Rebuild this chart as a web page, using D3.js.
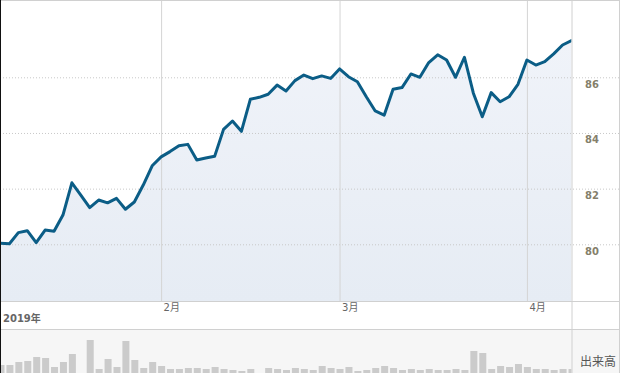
<!DOCTYPE html>
<html>
<head>
<meta charset="utf-8">
<script src="https://cdn.jsdelivr.net/npm/d3@7"></script>
<style>
  body { margin: 0; background: #fff; }
  svg { display: block; }
</style>
</head>
<body>
<svg id="chart" width="620" height="373"></svg>
<script>
// 終値 (2019/1/8 - 2019/4/8, 営業日)
var prices = [
	80.04, 80.02, 80.42, 80.49, 80.06, 80.51, 80.47, 81.05, 82.21, 81.77,
	81.32, 81.59, 81.49, 81.65, 81.26, 81.52, 82.13, 82.82, 83.14, 83.33,
	83.54, 83.59, 83.03, 83.10, 83.16, 84.13, 84.43, 84.06, 85.21, 85.28,
	85.39, 85.72, 85.51, 85.88, 86.08, 85.95, 86.05, 85.96, 86.30, 86.02,
	85.84, 85.30, 84.79, 84.64, 85.57, 85.63, 86.12, 86.00, 86.53, 86.81,
	86.62, 86.00, 86.72, 85.43, 84.58, 85.45, 85.12, 85.30, 85.75, 86.62,
	86.44, 86.56, 86.84, 87.16, 87.32
]

// 出来高
var volumes = [
	80, 80, 110, 120, 160, 150, 60, 110, 190, 0,
	330, 40, 140, 60, 320, 130, 50, 110, 70, 40,
	40, 50, 50, 40, 60, 40, 30, 20, 40, 0,
	50, 40, 30, 50, 40, 30, 70, 50, 40, 60,
	20, 30, 50, 70, 50, 30, 40, 30, 40, 30,
	30, 40, 30, 220, 200, 40, 70, 60, 90, 60,
	40, 40, 30, 40, 40
]

var yTicks = [80, 82, 84, 86]
var monthNames = ['1月', '2月', '3月', '4月']
var yearLabel = '2019年'
var volLabel = '出来高'

// 営業日 (平日)
var dates = d3.utcDay.range(new Date(Date.UTC(2019, 0, 8)), new Date(Date.UTC(2019, 3, 9)))
	.filter(function(d) { return d.getUTCDay() != 0 && d.getUTCDay() != 6 })

var data = dates.map(function(d, i) {
	return { date: d, close: prices[i], vol: volumes[i] }
})

var W = 620, H = 373
var plotR = 571.5, plotB = 301
var volTop = 329

var svg = d3.select('#chart')

var x = d3.scalePoint().domain(d3.range(data.length)).range([0.5, plotR])
var y = d3.scaleLinear().domain([80, 86]).range([244.3, 77.3])
var vy = d3.scaleLinear().domain([0, 440]).range([H, volTop])

// 月初のインデックス
var monthStarts = d3.range(1, data.length).filter(function(i) {
	return data[i].date.getUTCMonth() != data[i - 1].date.getUTCMonth()
})

var defs = svg.append('defs')
defs.append('clipPath').attr('id', 'plotclip')
	.append('rect').attr('x', 0).attr('y', 0).attr('width', plotR).attr('height', plotB)
defs.append('clipPath').attr('id', 'volclip')
	.append('rect').attr('x', 0).attr('y', volTop).attr('width', plotR).attr('height', H - volTop)
var grad = defs.append('linearGradient').attr('id', 'fillgrad')
	.attr('x1', 0).attr('y1', 0).attr('x2', 0).attr('y2', 1)
grad.append('stop').attr('offset', '0%').attr('stop-color', '#f0f3f9')
grad.append('stop').attr('offset', '100%').attr('stop-color', '#e6ecf4')

// 出来高の背景
svg.append('rect')
	.attr('x', 0).attr('y', volTop).attr('width', W).attr('height', H - volTop)
	.style('fill', '#f6f6f6')

// 面
var area = d3.area()
	.x(function(d, i) { return x(i) })
	.y0(plotB)
	.y1(function(d) { return y(d.close) })

svg.append('path')
	.datum(data)
	.attr('clip-path', 'url(#plotclip)')
	.attr('d', area)
	.style('fill', 'url(#fillgrad)')

// 横グリッド + 目盛
var yAxis = svg.append('g')
	.attr('class', 'yaxis')
	.call(d3.axisRight(y).tickValues(yTicks).tickSize(W).tickFormat(d3.format('d')))
yAxis.select('.domain').remove()
yAxis.selectAll('line')
	.style('stroke', '#c8c8c8')
	.style('stroke-dasharray', '1,2')
yAxis.selectAll('text')
	.attr('x', 585).attr('y', 10).attr('dy', 0)
	.style('text-anchor', 'start')
	.style('font-family', '"DejaVu Sans", Verdana, sans-serif')
	.style('font-size', '10px')
	.style('font-weight', 'bold')
	.style('fill', '#857f6b')

// 縦グリッド + 月
var xAxis = svg.append('g')
	.attr('transform', 'translate(0,' + plotB + ')')
	.call(d3.axisBottom(x).tickValues(monthStarts).tickSize(-plotB).tickPadding(0)
		.tickFormat(function(i) { return monthNames[data[i].date.getUTCMonth()] }))
xAxis.select('.domain').remove()
xAxis.selectAll('line').style('stroke', '#d4d4d4')
xAxis.selectAll('text')
	.attr('x', 2).attr('y', 10).attr('dy', 0)
	.style('text-anchor', 'start')
	.style('font-family', '"DejaVu Sans", "Noto Sans CJK JP", sans-serif')
	.style('font-size', '10px')
	.style('fill', '#666')

// 線
var line = d3.line()
	.x(function(d, i) { return x(i) })
	.y(function(d) { return y(d.close) })

svg.append('path')
	.datum(data)
	.attr('clip-path', 'url(#plotclip)')
	.attr('d', line)
	.style('fill', 'none')
	.style('stroke', '#0b5d86')
	.style('stroke-width', 3)
	.style('stroke-linejoin', 'round')
	.style('stroke-linecap', 'round')

// 出来高バー
svg.append('g')
	.attr('clip-path', 'url(#volclip)')
	.selectAll('.vbar').data(data)
	.enter().append('rect')
	.attr('class', 'vbar')
	.attr('x', function(d, i) { return x(i) - 3 })
	.attr('width', 7)
	.attr('y', function(d) { return vy(d.vol) })
	.attr('height', function(d) { return H - vy(d.vol) })
	.style('fill', '#cbcbcb')

// 枠線
function hline(yy) {
	svg.append('line').attr('x1', 0).attr('x2', W).attr('y1', yy).attr('y2', yy)
		.style('stroke', '#d0d0d0')
}
hline(0.5)
hline(plotB + 0.5)
hline(volTop + 0.5)
svg.append('line').attr('x1', plotR + 0.5).attr('x2', plotR + 0.5).attr('y1', 0).attr('y2', H)
	.style('stroke', '#d0d0d0')
svg.append('line').attr('x1', W - 0.5).attr('x2', W - 0.5).attr('y1', 0).attr('y2', H)
	.style('stroke', '#d0d0d0')
svg.append('line').attr('x1', 0.5).attr('x2', 0.5).attr('y1', 0).attr('y2', H)
	.style('stroke', '#111')

svg.append('text')
	.attr('x', 3).attr('y', 322)
	.text(yearLabel)
	.style('font-family', '"DejaVu Sans", "Noto Sans CJK JP", sans-serif')
	.style('font-size', '10px')
	.style('font-weight', 'bold')
	.style('fill', '#666')

svg.append('text')
	.attr('x', 580).attr('y', 366)
	.text(volLabel)
	.style('font-family', '"Noto Sans CJK JP", sans-serif')
	.style('font-size', '12px')
	.style('fill', '#555')
</script>
</body>
</html>
